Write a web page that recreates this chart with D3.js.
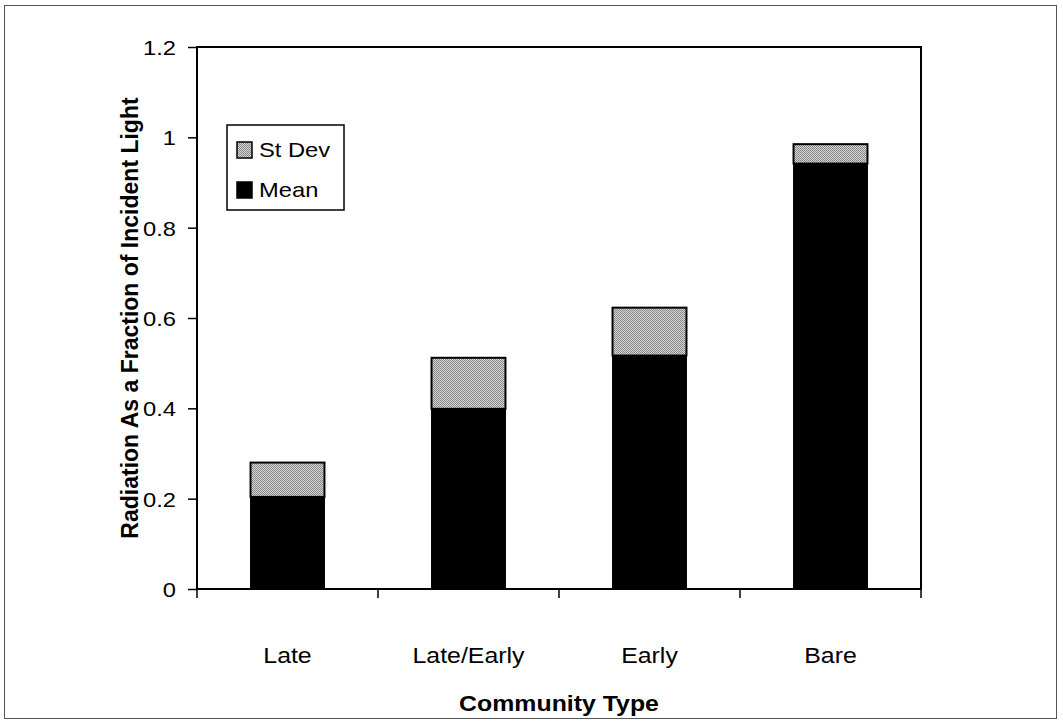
<!DOCTYPE html>
<meta charset="utf-8">
<head>
    <style>
        body { margin: 0; background: #fff; }
        text { font-family: "Liberation Sans", Arial, sans-serif; fill: #000; }
    </style>
    <script src="https://cdn.jsdelivr.net/npm/d3@7"></script>
</head>
<body></body>
<script>

    var width = 1063,
        height = 721;

    // data
    var categories = ["Late", "Late/Early", "Early", "Bare"];
    var meanValues = [0.205, 0.40, 0.518, 0.943];
    var stdevValues = [0.076, 0.113, 0.106, 0.043];
    var yTicks = [0, 0.2, 0.4, 0.6, 0.8, 1, 1.2];
    var legendLabels = ["St Dev", "Mean"];

    var plot = {left: 197, right: 921, top: 47, bottom: 589};
    var stretch = 1.13;   // the scanned text is a little wider than tall

    var svg = d3.select("body").append("svg")
        .attr("width", width)
        .attr("height", height);

    // dithered grey fill
    var defs = svg.append("defs");
    var pat = defs.append("pattern")
        .attr("id", "dither")
        .attr("width", 2).attr("height", 2)
        .attr("patternUnits", "userSpaceOnUse");
    pat.append("rect").attr("width", 2).attr("height", 2).attr("fill", "#d8d8d8");
    pat.append("rect").attr("width", 1).attr("height", 1).attr("fill", "#808080");
    pat.append("rect").attr("x", 1).attr("y", 1).attr("width", 1).attr("height", 1).attr("fill", "#8a8a8a");

    // outer frame
    svg.append("rect")
        .attr("x", 4.5).attr("y", 5.5)
        .attr("width", 1052).attr("height", 713)
        .attr("fill", "none")
        .attr("stroke", "#555")
        .attr("stroke-width", 1);

    var x = d3.scaleBand()
        .domain(categories)
        .range([plot.left, plot.right])
        .paddingInner(0.586)
        .paddingOuter(0.293);

    var y = d3.scaleLinear()
        .domain([0, 1.2])
        .range([plot.bottom, plot.top]);

    var rows = categories.map(function(c, i) {
        return {cat: c, mean: meanValues[i], sd: stdevValues[i]};
    });

    // helper: place a horizontally stretched label
    function label(g, tx, ty, str, size, anchor, weight) {
        return g.append("text")
            .attr("transform", "translate(" + tx + "," + ty + ") scale(" + stretch + ",1)")
            .attr("text-anchor", anchor)
            .style("font-size", size + "px")
            .style("font-weight", weight || "normal")
            .text(str);
    }

    // mean bars
    svg.selectAll(".mean")
        .data(rows)
        .enter().append("rect")
        .attr("class", "mean")
        .attr("x", function(d) { return x(d.cat); })
        .attr("width", x.bandwidth())
        .attr("y", function(d) { return y(d.mean); })
        .attr("height", function(d) { return y(0) - y(d.mean); })
        .attr("fill", "#000");

    // st dev on top
    svg.selectAll(".sd")
        .data(rows)
        .enter().append("rect")
        .attr("class", "sd")
        .attr("x", function(d) { return x(d.cat) + 0.5; })
        .attr("width", x.bandwidth() - 1)
        .attr("y", function(d) { return y(d.mean + d.sd) + 0.5; })
        .attr("height", function(d) { return y(d.mean) - y(d.mean + d.sd); })
        .attr("fill", "url(#dither)")
        .attr("stroke", "#000")
        .attr("stroke-width", 2);

    // plot frame
    svg.append("rect")
        .attr("x", plot.left).attr("y", plot.top)
        .attr("width", plot.right - plot.left)
        .attr("height", plot.bottom - plot.top)
        .attr("fill", "none")
        .attr("stroke", "#000")
        .attr("stroke-width", 2);

    // y axis ticks via d3 axis, labels drawn stretched
    var yAxis = svg.append("g")
        .attr("transform", "translate(" + plot.left + ",0)")
        .call(d3.axisLeft(y).tickValues(yTicks).tickSize(9).tickFormat(""));
    yAxis.select(".domain").remove();
    yAxis.selectAll("line").attr("stroke", "#000").attr("stroke-width", 1.5);

    var yLab = svg.append("g");
    yTicks.forEach(function(t) {
        label(yLab, plot.left - 21, y(t) + 8, String(t), 21, "end");
    });

    // x axis: ticks at band boundaries, labels centred on bands
    var step = x.step();
    var bounds = d3.range(categories.length + 1).map(function(i) {
        return plot.left + i * step;
    });
    svg.selectAll(".xtick")
        .data(bounds)
        .enter().append("line")
        .attr("x1", function(d) { return d; })
        .attr("x2", function(d) { return d; })
        .attr("y1", plot.bottom)
        .attr("y2", plot.bottom + 9)
        .attr("stroke", "#000")
        .attr("stroke-width", 1.5);

    var xLab = svg.append("g");
    categories.forEach(function(c) {
        label(xLab, x(c) + x.bandwidth() / 2, 663, c, 22, "middle");
    });

    // axis titles
    label(svg, (plot.left + plot.right) / 2, 711, "Community Type", 22, "middle", "bold");

    svg.append("text")
        .attr("transform", "translate(138," + (plot.top + plot.bottom) / 2 + ") rotate(-90)")
        .attr("text-anchor", "middle")
        .style("font-size", "23px")
        .style("font-weight", "bold")
        .text("Radiation As a Fraction of Incident Light");

    // legend
    var legend = svg.append("g").attr("transform", "translate(227,125)");
    legend.append("rect")
        .attr("width", 117).attr("height", 85)
        .attr("fill", "#fff")
        .attr("stroke", "#000")
        .attr("stroke-width", 1.5);
    var fills = ["url(#dither)", "#000"];
    var rowsY = [17, 57];
    legendLabels.forEach(function(d, i) {
        legend.append("rect")
            .attr("x", 10).attr("y", rowsY[i])
            .attr("width", 15).attr("height", 16)
            .attr("fill", fills[i])
            .attr("stroke", "#000")
            .attr("stroke-width", 1.5);
        label(legend, 32, rowsY[i] + 15, d, 21, "start");
    });

</script>
